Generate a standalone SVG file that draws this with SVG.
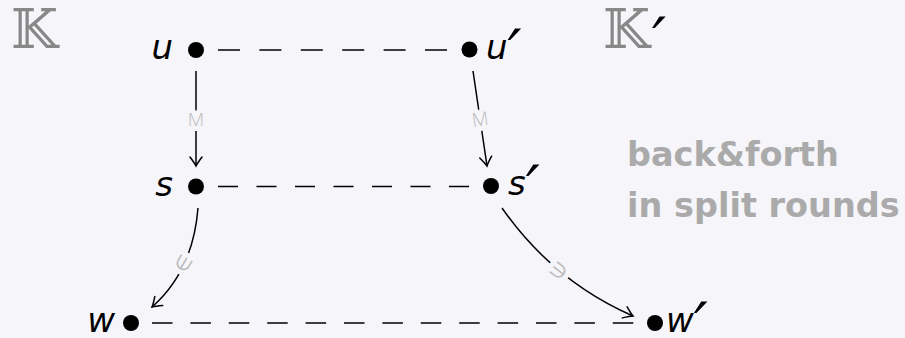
<svg xmlns="http://www.w3.org/2000/svg" width="905" height="338" viewBox="0 0 905 338">
<defs>
<marker id="arr" viewBox="-10 -7 12 14" markerWidth="12" markerHeight="14" refX="0" refY="0" orient="auto" markerUnits="userSpaceOnUse">
<path d="M-9,-6 Q-3,-1.5 0,0 Q-3,1.5 -9,6" fill="none" stroke="#000" stroke-width="1.5" stroke-linecap="round"/>
</marker>
</defs>
<style>
.bg{fill:#f5f5fa}
.dot{fill:#000}
.var{font-family:"DejaVu Sans",sans-serif;font-style:italic;font-size:34px;fill:#000}
.pr{font-size:62px}
.kk{font-family:"DejaVu Serif","DejaVu Sans",serif;font-size:54px;fill:#888}
.note{font-family:"DejaVu Sans",sans-serif;font-weight:bold;font-size:33.5px;fill:#aaa}
.dash{stroke:#000;stroke-width:1.5;fill:none}
.arrow{stroke:#000;stroke-width:1.5;fill:none;marker-end:url(#arr)}
.lab{font-family:"Open Sans","DejaVu Sans",sans-serif;font-weight:300;font-size:19px;fill:#bbb;text-anchor:middle;stroke:#f5f5fa;stroke-width:10;paint-order:stroke;stroke-linejoin:round}
</style>
<rect class="bg" x="0" y="0" width="905" height="338"/>
<g id="K"><text class="kk" x="11" y="48">𝕂</text></g>
<g id="Kprime"><text class="kk" x="603" y="48">𝕂<tspan fill="#000" class="pr" font-style="italic" font-family="DejaVu Sans" dx="2" dy="14">′</tspan></text></g>
<g id="note">
<text class="note" x="627" y="166">back&amp;forth</text>
<text class="note" x="627" y="217">in split rounds</text>
</g>
<g id="connectors">
<line class="dash" x1="218" y1="50" x2="448" y2="50" stroke-dasharray="22 19.4"/>
<line class="dash" x1="218" y1="186.5" x2="469" y2="186.5" stroke-dasharray="20 18.5"/>
<line class="dash" x1="152" y1="323" x2="634" y2="323" stroke-dasharray="20.5 17.9"/>
<path class="arrow" d="M196,71 L196,166"/>
<path class="arrow" d="M473,71 L487,166"/>
<path class="arrow" d="M198,208 Q193,271 152,307"/>
<path class="arrow" d="M502,208 Q553,281 633,316"/>
<text class="lab" x="196" y="126">M</text>
<text class="lab" transform="translate(480,119) rotate(-8.3)" x="0" y="7">M</text>
<text class="lab" transform="translate(184,264) rotate(-60)" x="0" y="6">∈</text>
<text class="lab" transform="translate(558,272) rotate(38)" x="0" y="6">∋</text>
</g>
<g id="u"><circle class="dot" cx="196" cy="50" r="8"/><text class="var" x="173" y="59" text-anchor="end">u</text></g>
<g id="uprime"><circle class="dot" cx="469.5" cy="49.5" r="8"/><text class="var" x="486" y="59">u<tspan class="pr" dx="0" dy="15">′</tspan></text></g>
<g id="s"><circle class="dot" cx="196" cy="186.5" r="8"/><text class="var" x="173" y="196" text-anchor="end">s</text></g>
<g id="sprime"><circle class="dot" cx="491" cy="186" r="8"/><text class="var" x="508" y="195">s<tspan class="pr" dx="0" dy="15">′</tspan></text></g>
<g id="w"><circle class="dot" cx="131" cy="323" r="8"/><text class="var" x="115" y="332" text-anchor="end">w</text></g>
<g id="wprime"><circle class="dot" cx="655" cy="323" r="8"/><text class="var" x="666" y="332">w<tspan class="pr" dx="0" dy="15">′</tspan></text></g>
</svg>
